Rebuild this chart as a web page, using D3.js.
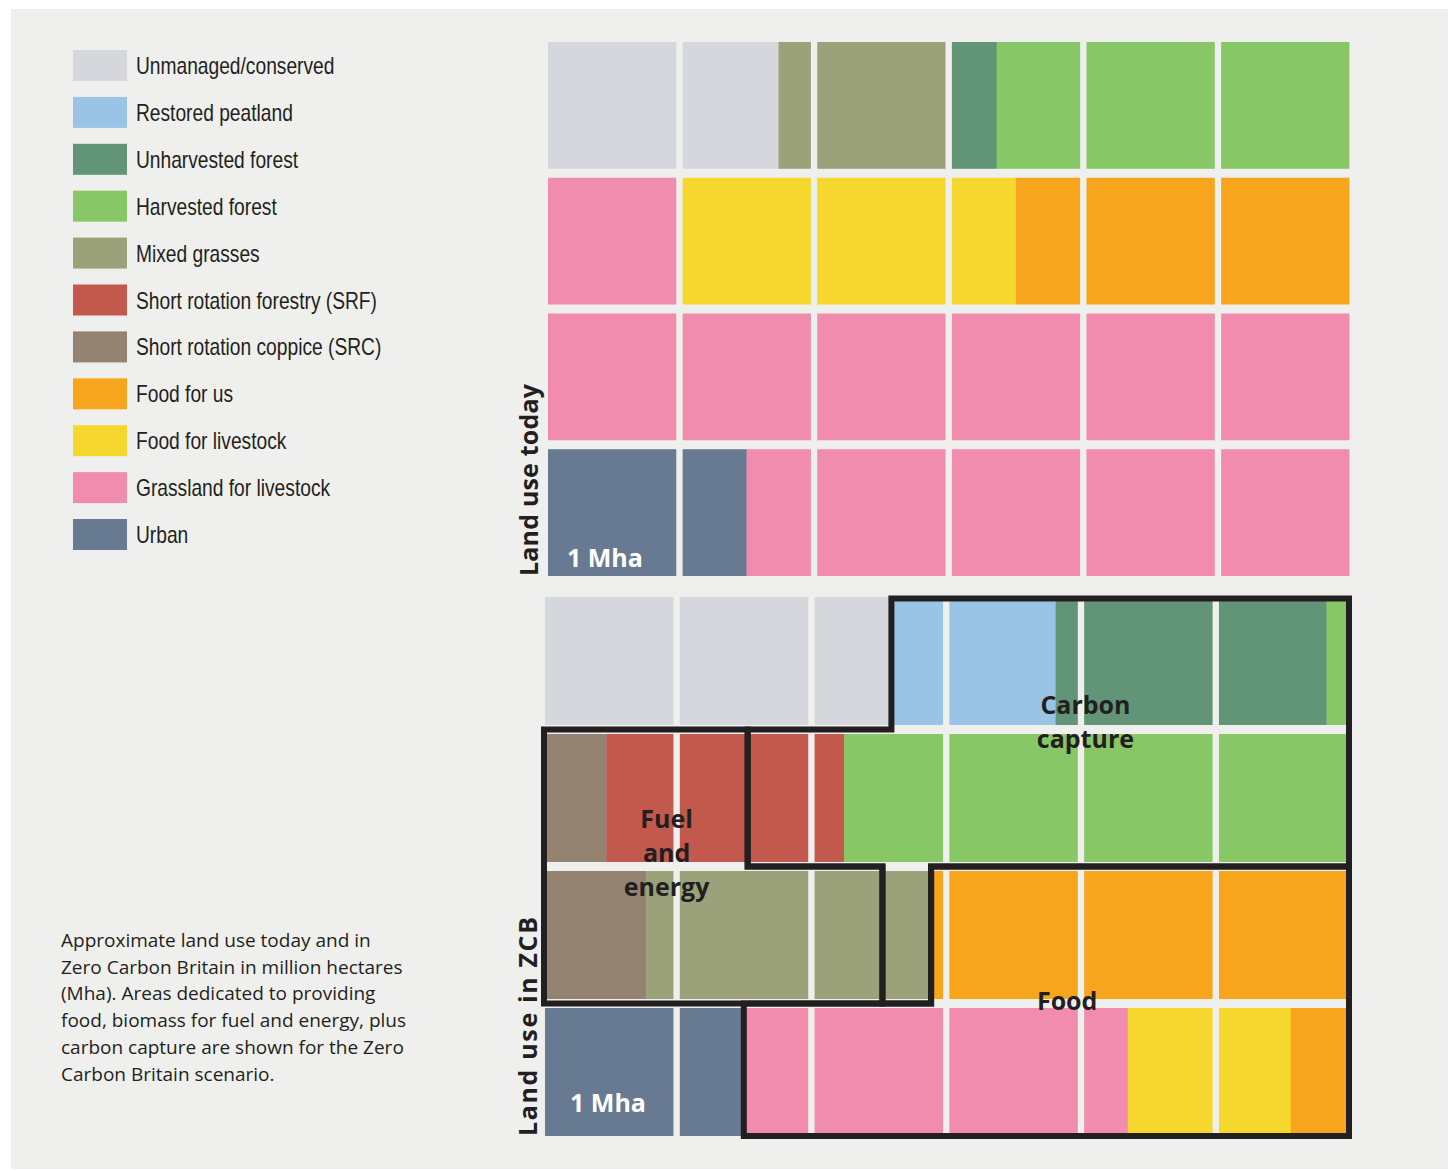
<!DOCTYPE html>
<html><head><meta charset="utf-8">
<script src="https://cdn.jsdelivr.net/npm/d3@7"></script>
<style>
html,body{margin:0;padding:0;background:#ffffff;}
svg{display:block;}
</style></head><body>
<svg id="chart" width="1453" height="1171"></svg>
<script>
// ---------- DATA ----------
const categories = ["Unmanaged/conserved","Restored peatland","Unharvested forest","Harvested forest","Mixed grasses","Short rotation forestry (SRF)","Short rotation coppice (SRC)","Food for us","Food for livestock","Grassland for livestock","Urban"];
const categoryColors = ["#d6d7dc","#9ac4e6","#629577","#88c766","#9ba27a","#c2594c","#958372","#f7a51d","#f6d72e","#f18cae","#687a91"];

// Land use today (Mha) - 1 Mha cells filled in reading order from the top-left cell
const todayCategories = ["Unmanaged/conserved","Mixed grasses","Unharvested forest","Harvested forest","Grassland for livestock","Food for livestock","Food for us","Grassland for livestock","Urban","Grassland for livestock"];
const todayValues = [1.75,1.25,0.35,2.65,1,2.5,2.5,6,1.5,4.5];

// Land use in Zero Carbon Britain (Mha) - same filling order
const zcbCategories = ["Unmanaged/conserved","Restored peatland","Unharvested forest","Harvested forest","Short rotation coppice (SRC)","Short rotation forestry (SRF)","Harvested forest","Short rotation coppice (SRC)","Mixed grasses","Food for us","Urban","Grassland for livestock","Food for livestock","Food for us"];
const zcbValues = [2.6,1.23,2.01,0.16,0.48,1.75,3.77,0.79,2.12,3.09,1.5,2.84,1.22,0.44];

const gridColumns = 6, gridRows = 4;

// ZCB purpose groups, outline vertices in grid units [column, row]
const groupNames = ["Carbon capture","Fuel and energy","Food"];
const carbonOutline = [[2.6,0],[6,0],[6,2],[2.91,2],[2.91,3],[2.53,3],[2.53,2],[1.53,2],[1.53,1],[2.6,1]];
const fuelOutline = [[0,1],[1.53,1],[1.53,2],[2.53,2],[2.53,3],[0,3]];
const foodOutline = [[2.91,2],[6,2],[6,4],[1.5,4],[1.5,3],[2.91,3]];

const gridTitles = ["Land use today","Land use in ZCB"];
const unitLabel = "1 Mha";
const captionLines = [
  "Approximate land use today and in",
  "Zero Carbon Britain in million hectares",
  "(Mha). Areas dedicated to providing",
  "food, biomass for fuel and energy, plus",
  "carbon capture are shown for the Zero",
  "Carbon Britain scenario."
];

// ---------- DRAW ----------
const svg = d3.select("#chart");
const ink = "#231f20";
const color = d3.scaleOrdinal().domain(categories).range(categoryColors);

svg.append("rect").attr("x",11).attr("y",9).attr("width",1437).attr("height",1160).attr("fill","#eff0ed");

// Legend
const legendY = d3.scalePoint().domain(categories).range([50, 519]);
const legend = svg.append("g");
categories.forEach(c => {
  legend.append("rect").attr("x",73).attr("y",legendY(c)).attr("width",54).attr("height",31).attr("fill",color(c));
  legend.append("text")
    .attr("transform", `translate(136,${legendY(c)+24}) scale(0.8,1)`)
    .attr("font-family","'Liberation Sans',Arial,sans-serif")
    .attr("font-size",24).attr("fill",ink).text(c);
});

function makeGrid(x0,x1,y0,y1){
  const xs = d3.scaleBand().domain(d3.range(gridColumns)).range([x0,x1]).paddingInner(0.05).paddingOuter(0);
  const ys = d3.scaleBand().domain(d3.range(gridRows)).range([y0,y1]).paddingInner(0.066).paddingOuter(0);
  return {xs, ys};
}

function drawGrid(g, grid, cats, vals){
  const {xs, ys} = grid;
  const bw = xs.bandwidth(), bh = ys.bandwidth();
  let pos = 0;
  cats.forEach((c,i) => {
    const start = pos, end = pos + vals[i];
    for (let k = Math.floor(start); k < Math.ceil(end - 1e-9); k++){
      const s = Math.max(start,k), e = Math.min(end,k+1);
      if (e - s <= 1e-9) continue;
      const col = k % gridColumns, row = Math.floor(k / gridColumns);
      g.append("rect")
        .attr("x", xs(col) + (s-k)*bw)
        .attr("y", ys(row))
        .attr("width", (e-s)*bw + 0.4)
        .attr("height", bh)
        .attr("fill", color(c));
    }
    pos = end;
  });
}

const todayGrid = makeGrid(548,1349,42,576);
const zcbGrid = makeGrid(545,1347,597,1136);
drawGrid(svg.append("g"), todayGrid, todayCategories, todayValues);
drawGrid(svg.append("g"), zcbGrid, zcbCategories, zcbValues);

// grid-unit -> pixel helpers
function unitX(grid,u){
  const xs = grid.xs, bw = xs.bandwidth(), gap = xs.step()-bw;
  if (u <= 0) return xs(0) - 1;
  if (u >= gridColumns) return xs(gridColumns-1) + bw + 2;
  const k = Math.floor(u), f = u - k;
  if (f < 1e-9) return xs(k) - gap/2;
  return xs(k) + f*bw;
}
function unitY(grid,v){
  const ys = grid.ys, bh = ys.bandwidth(), gap = ys.step()-bh;
  if (v <= 0) return ys(0) + 1.5;
  if (v >= gridRows) return ys(gridRows-1) + bh;
  const k = Math.floor(v), f = v - k;
  if (f < 1e-9) return ys(k) - gap/2;
  return ys(k) + f*bh;
}

const outlineLine = d3.line().x(d => unitX(zcbGrid,d[0])).y(d => unitY(zcbGrid,d[1])).curve(d3.curveLinearClosed);
[carbonOutline, fuelOutline, foodOutline].forEach(o => {
  svg.append("path").attr("d", outlineLine(o)).attr("fill","none")
    .attr("stroke", ink).attr("stroke-width",6).attr("stroke-linejoin","miter");
});

// Group labels
const boldFont = "'Open Sans','Noto Sans',sans-serif";
function groupLabel(lines, u, baseY){
  const t = svg.append("text").attr("font-family",boldFont).attr("font-weight",700)
    .attr("font-size",25).attr("fill",ink).attr("text-anchor","middle");
  lines.forEach((l,i) => t.append("tspan").attr("x", unitX(zcbGrid,u)).attr("y", baseY + i*34).text(l));
}
groupLabel(["Carbon","capture"], 4.01, zcbGrid.ys(0) + zcbGrid.ys.bandwidth() - 11);
groupLabel(["Fuel","and","energy"], 0.95, zcbGrid.ys(1) + 94);
groupLabel(["Food"], 3.92, zcbGrid.ys(3) + 2);

// 1 Mha labels
[[todayGrid, 9, -7],[zcbGrid, 24, -1]].forEach(([grid, off, dx]) => {
  svg.append("text").attr("x", grid.xs(0) + grid.xs.bandwidth()/2 + dx)
    .attr("y", grid.ys(gridRows-1) + grid.ys.bandwidth() - off)
    .attr("text-anchor","middle").attr("font-family",boldFont).attr("font-weight",700)
    .attr("font-size",25).attr("fill","#ffffff").text(unitLabel);
});

// Grid titles (rotated)
[[todayGrid, 192, -10],[zcbGrid, 219, -8]].forEach(([grid, len, dx], i) => {
  const bx = grid.xs(0) + dx;
  const by = grid.ys(gridRows-1) + grid.ys.bandwidth();
  svg.append("text").attr("transform", `translate(${bx},${by}) rotate(-90)`)
    .attr("font-family",boldFont).attr("font-weight",700).attr("font-size",25)
    .attr("fill",ink).attr("textLength",len).attr("lengthAdjust","spacing").text(gridTitles[i]);
});

// Caption
const cap = svg.append("text").attr("font-family","'Open Sans','Noto Sans',sans-serif").attr("font-size",19).attr("fill",ink);
captionLines.forEach((l,i) => cap.append("tspan").attr("x",61).attr("y",947 + i*26.7).text(l));
</script>
</body></html>
